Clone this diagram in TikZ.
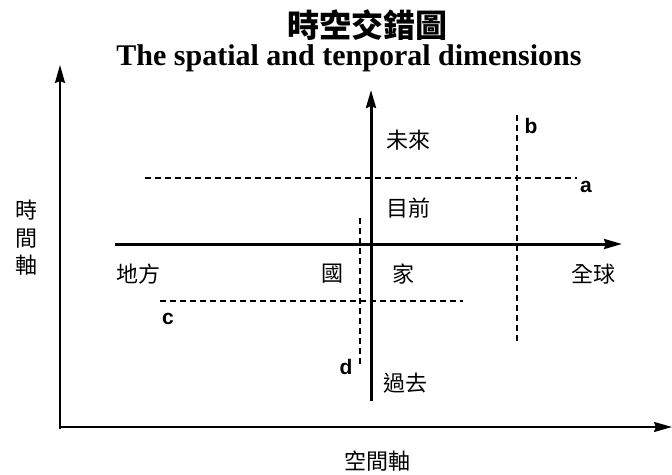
\documentclass[tikz,border=0pt]{standalone}
\usepackage{fontspec}
\setmainfont{Liberation Serif}
\newfontfamily\cjk{Noto Sans CJK TC}
\newfontfamily\lab{Liberation Sans}
\usetikzlibrary{arrows.meta}

\begin{document}
\begin{tikzpicture}[x=1pt, y=-1pt]

        \def\tip{Stealth[length=18pt, width=10pt, inset=2pt]}

        % Styles for the words, the letters and the lines
        \tikzset{
            word/.style={font=\cjk\fontsize{22}{27.5}\selectfont, inner sep=0pt},
            letter/.style={font=\lab\bfseries\fontsize{21}{21}\selectfont, inner sep=0pt},
            outeraxis/.style={line width=2pt, -{\tip}},
            inneraxis/.style={line width=3pt, -{\tip}},
            cut/.style={line width=1.2pt, dash pattern=on 6pt off 4pt}
        }

        \useasboundingbox (0, 0) rectangle (672, 474);

        % Titles
        \node (title) at (367, 25)
        {\cjk\bfseries\fontsize{32}{32}\selectfont 時空交錯圖};
        \node (sub) [anchor=base, inner sep=0pt] at (349, 65)
        {\bfseries\fontsize{30}{30}\selectfont The spatial and tenporal dimensions};

        % Scope used for the outer axes
        \begin{scope}
            \coordinate (o) at (60, 427);
            \coordinate (t) at (60, 65);
            \coordinate (s) at (672, 427);
            \node (time) [word, align=center] at (26, 238)
            {時\\間\\軸};
            \node (space) [word] at (377, 461)
            {空間軸};
            \draw[outeraxis] ([yshift=-2pt]o) -- (t);
            \draw[outeraxis] ([xshift=-1pt]o) -- (s);
        \end{scope}

        % Scope used for the inner axes
        \begin{scope}
            \coordinate (w) at (115, 244);
            \coordinate (e) at (622, 244);
            \coordinate (pb) at (371, 401);
            \coordinate (pt) at (371, 90);
            \draw[inneraxis] (w) -- (e);
            \draw[inneraxis] (pb) -- (pt);

            \node (future) [word] at (408, 140) {未來};
            \node (now) [word] at (408, 208) {目前};
            \node (past) [word] at (405, 383) {過去};
            \node (local) [word] at (138, 274) {地方};
            \node (na) [word] at (332, 274) {國};
            \node (tion) [word] at (403, 274) {家};
            \node (global) [word] at (593, 274) {全球};
        \end{scope}

        % Scope used for the dashed cuts
        \begin{scope}[cut]
            \coordinate (a1) at (145, 178);
            \coordinate (a2) at (577, 178);
            \coordinate (b1) at (517, 115);
            \coordinate (b2) at (517, 342);
            \coordinate (c1) at (160, 301);
            \coordinate (c2) at (463, 301);
            \coordinate (d1) at (360, 218);
            \coordinate (d2) at (360, 365);
            \draw (a1) -- (a2);
            \draw (b1) -- (b2);
            \draw (c1) -- (c2);
            \draw (d1) -- (d2);
        \end{scope}

        \node (a) [letter] at (586, 187) {a};
        \node (b) [letter] at (531, 126) {b};
        \node (c) [letter] at (168, 319) {c};
        \node (d) [letter] at (346, 367) {d};

\end{tikzpicture}
\end{document}
